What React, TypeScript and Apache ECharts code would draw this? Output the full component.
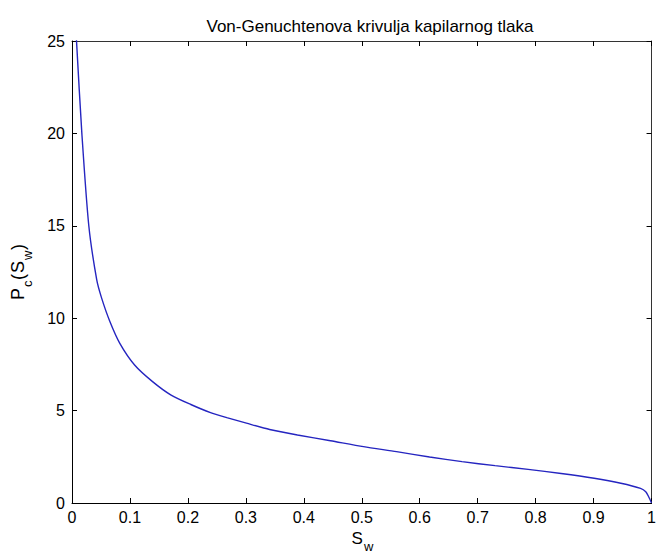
import React, { useEffect, useRef } from "react";
import * as echarts from "echarts";

const titleText = "Von-Genuchtenova krivulja kapilarnog tlaka";
const xTickStep = 0.1;
const yTickStep = 5;
const swValues = [
  0.006, 0.0085, 0.017, 0.029, 0.0427, 0.051, 0.065, 0.0825, 0.108, 0.139, 0.171, 0.205, 0.239,
  0.267, 0.301, 0.341, 0.389, 0.446, 0.503, 0.56, 0.617, 0.673, 0.73, 0.787, 0.844, 0.901, 0.947,
  0.981, 0.99, 0.995, 1.0,
];
const pcValues = [
  26.0, 24.6, 20.0, 15.0, 12.07, 11.1, 9.85, 8.64, 7.47, 6.57, 5.84, 5.33, 4.89, 4.62, 4.32, 3.98,
  3.68, 3.37, 3.05, 2.78, 2.49, 2.24, 2.02, 1.82, 1.6, 1.34, 1.07, 0.79, 0.61, 0.34, 0,
];

export default function App() {
  const ref = useRef<HTMLDivElement>(null);
  useEffect(() => {
    document.body.style.margin = "0";
    const chart = echarts.init(ref.current!, null, { renderer: "svg" });
    const font = "Liberation Sans";
    const data = swValues.map((x, i) => [x, pcValues[i]]);
    const txt = (text: string, x: number, y: number, size: number) => ({
      type: "text",
      x,
      y,
      style: {
        text,
        fontFamily: font,
        fontSize: size,
        fill: "#000",
        textAlign: "left",
        textVerticalAlign: "middle",
      },
    });
    chart.setOption({
      animation: false,
      backgroundColor: "#ffffff",
      title: {
        text: titleText,
        left: 365,
        textAlign: "center",
        top: 13,
        textStyle: { fontFamily: font, fontSize: 17, fontWeight: "normal", color: "#000" },
      },
      grid: { left: 72, top: 41, right: 1, bottom: 52 },
      graphic: [
        txt("S", 351.5, 538, 17),
        txt("w", 364, 546.5, 13),
        {
          type: "group",
          x: 0,
          y: 300,
          rotation: Math.PI / 2,
          children: [
            txt("P", 0, 17.5, 18),
            txt("c", 13, 27.5, 13),
            txt("(", 20, 17.5, 18),
            txt("S", 27, 17.5, 18),
            txt("w", 40, 27.5, 13),
            txt(")", 50, 17.5, 18),
          ],
        },
      ],
      xAxis: [
        {
          type: "value",
          min: 0,
          max: 1,
          interval: xTickStep,
          axisLine: { show: true, onZero: false, lineStyle: { color: "#000", width: 1 } },
          axisTick: { show: true, inside: true, length: 5, lineStyle: { color: "#000" } },
          axisLabel: { fontFamily: font, fontSize: 16, color: "#000", margin: 6 },
          splitLine: { show: false },
        },
        {
          type: "value",
          position: "top",
          min: 0,
          max: 1,
          interval: xTickStep,
          axisLine: { show: true, onZero: false, lineStyle: { color: "#333", width: 1 } },
          axisTick: { show: true, inside: true, length: 5, lineStyle: { color: "#000" } },
          axisLabel: { show: false },
          splitLine: { show: false },
        },
      ],
      yAxis: [
        {
          type: "value",
          min: 0,
          max: 25,
          interval: yTickStep,
          axisLine: { show: true, onZero: false, lineStyle: { color: "#000", width: 1 } },
          axisTick: { show: true, inside: true, length: 5, lineStyle: { color: "#000" } },
          axisLabel: { fontFamily: font, fontSize: 16, color: "#000", margin: 7 },
          splitLine: { show: false },
        },
        {
          type: "value",
          position: "right",
          min: 0,
          max: 25,
          interval: yTickStep,
          axisLine: { show: true, onZero: false, lineStyle: { color: "#333", width: 1 } },
          axisTick: { show: true, inside: true, length: 5, lineStyle: { color: "#000" } },
          axisLabel: { show: false },
          splitLine: { show: false },
        },
      ],
      series: [
        {
          type: "line",
          data,
          xAxisIndex: 0,
          yAxisIndex: 0,
          showSymbol: false,
          smooth: 0.25,
          clip: true,
          lineStyle: { color: "#2525c0", width: 1.4 },
        },
      ],
    });
    return () => chart.dispose();
  }, []);
  return (
    <div
      ref={ref}
      style={{ position: "absolute", left: 0, top: 0, width: 659, height: 555 }}
    />
  );
}
